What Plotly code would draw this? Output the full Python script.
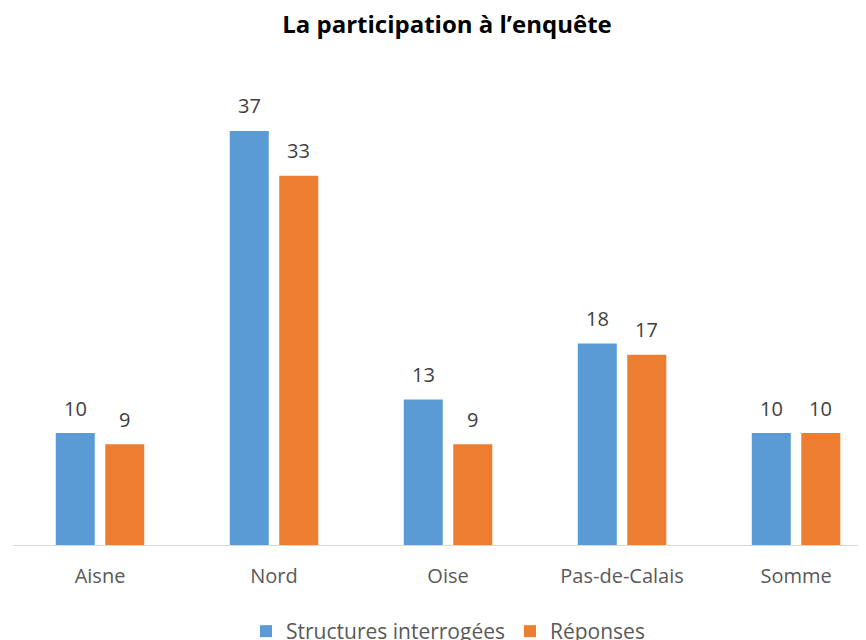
import plotly.graph_objects as go

categories = ["Aisne", "Nord", "Oise", "Pas-de-Calais", "Somme"]
structures = [10, 37, 13, 18, 10]
reponses = [9, 33, 9, 17, 10]
series_names = ["Structures interrogées", "Réponses"]
title_text = "La participation à l’enquête"

BLUE = "#5B9BD5"
ORANGE = "#ED7D31"
FONT = "Open Sans, sans-serif"

# page body has an 8px margin; figure is sized/offset to compensate
W, H = 858, 632

fig = go.Figure()
fig.add_trace(go.Bar(x=categories, y=structures, name=series_names[0],
                     marker=dict(color=BLUE, line=dict(width=0))))
fig.add_trace(go.Bar(x=categories, y=reponses, name=series_names[1],
                     marker=dict(color=ORANGE, line=dict(width=0))))

annotations = []
for vals, shift in ((structures, -24.5), (reponses, 24.5)):
    for c, v in zip(categories, vals):
        annotations.append(dict(x=c, y=v, xref="x", yref="y", text=str(v),
                                showarrow=False, xshift=shift, yshift=25,
                                yanchor="middle",
                                font=dict(family=FONT, size=20, color="#404040")))

fig.update_layout(
    width=W, height=H, autosize=False,
    paper_bgcolor="white", plot_bgcolor="white",
    margin=dict(l=5, r=0, t=72, b=95),
    barmode="group", bargap=0.431, bargroupgap=0.212,
    title=dict(text="<b>" + title_text + "</b>", xref="container", x=439/W,
               xanchor="center", yref="container", y=1 - 17/H, yanchor="middle",
               font=dict(family=FONT, size=24, color="#000000")),
    xaxis=dict(range=[-0.5, 4.402], showline=True, linecolor="#D9D9D9", linewidth=1,
               ticks="", showgrid=False, zeroline=False, ticklabelstandoff=13,
               tickfont=dict(family=FONT, size=20, color="#595959")),
    yaxis=dict(range=[0, 465/11.19], visible=False, showgrid=False, zeroline=False),
    legend=dict(orientation="h", xref="container", yref="container",
                x=440/W, xanchor="center", y=1 - 603/H, yanchor="top",
                font=dict(family=FONT, size=21, color="#595959"),
                itemclick=False, traceorder="normal"),
    annotations=annotations,
    showlegend=True,
)

fig.write_html("out.html")
